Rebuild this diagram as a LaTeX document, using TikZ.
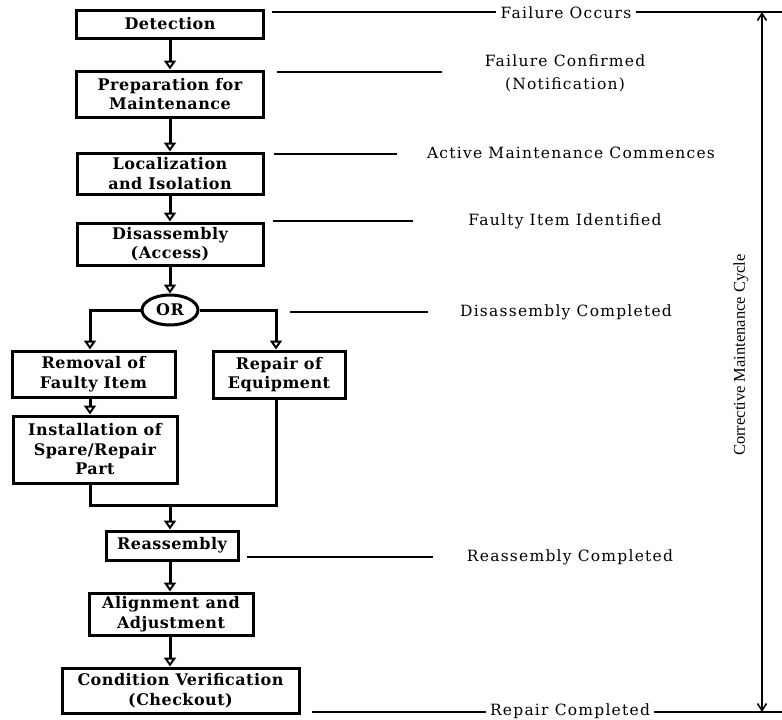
\documentclass[tikz,border=0pt]{standalone}
\usepackage{fontspec}
\setmainfont{DejaVu Serif}
\newfontfamily\stepfont[LetterSpace=3]{DejaVu Serif}
\newfontfamily\notefont[LetterSpace=8]{DejaVu Serif}
\newfontfamily\cyclefont{Liberation Serif}
\usetikzlibrary{arrows.meta,shapes.geometric}

\begin{document}
\begin{tikzpicture}[x=1pt,y=-1pt,
  stepbox/.style={draw, line width=3pt, rectangle, align=center, inner sep=2pt,
    font=\stepfont\bfseries\fontsize{16}{19.5}\selectfont},
  orbox/.style={draw, line width=3pt, ellipse, inner sep=0pt,
    minimum width=56pt, minimum height=30pt,
    font=\stepfont\bfseries\fontsize{16}{19.5}\selectfont},
  flow/.style={line width=3pt, -{Triangle[open,length=9pt,width=12pt,line width=2pt]}},
  link/.style={line width=3pt, line join=miter},
  lead/.style={line width=1.5pt},
  note/.style={font=\notefont\fontsize{15.5}{23}\selectfont, align=center, inner sep=4pt},
]
\fill[white] (0,0) rectangle (782,720);
\useasboundingbox (0,0) rectangle (782,720);

% process steps
\node[stepbox, minimum width=187pt, minimum height=28pt] (det)  at (170,24)    {Detection};
\node[stepbox, minimum width=187pt, minimum height=46pt] (prep) at (170,94)    {Preparation for\\Maintenance};
\node[stepbox, minimum width=186pt, minimum height=41pt] (loc)  at (170,173.5) {Localization\\and Isolation};
\node[stepbox, minimum width=186pt, minimum height=42pt] (dis)  at (170,244)   {Disassembly\\(Access)};
\node[orbox] (or) at (170,310) {OR};
\node[stepbox, minimum width=163pt, minimum height=46pt] (rem)  at (93.5,374)  {Removal of\\Faulty Item};
\node[stepbox, minimum width=132pt, minimum height=47pt] (rep)  at (279,374.5) {Repair of\\Equipment};
\node[stepbox, minimum width=164pt, minimum height=67pt] (inst) at (95,449.5)  {Installation of\\Spare/Repair\\Part};
\node[stepbox, minimum width=132pt, minimum height=29pt] (rea)  at (172,545.5) {Reassembly};
\node[stepbox, minimum width=164pt, minimum height=42pt] (ali)  at (171,614)   {Alignment and\\Adjustment};
\node[stepbox, minimum width=237pt, minimum height=45pt] (cond) at (180.5,690.5) {Condition Verification\\(Checkout)};

% branch columns and merge point
\coordinate (lx) at (90,0);
\coordinate (rx) at (276,0);
\coordinate (mrg) at (170,505);

% main flow
\draw[flow] (det.south) -- (det.south |- prep.north);
\draw[flow] (prep.south) -- (prep.south |- loc.north);
\draw[flow] (loc.south) -- (loc.south |- dis.north);
\draw[flow] (dis.south) -- (or.north);
\draw[flow] (or.west) -| (lx |- rem.north);
\draw[flow] (or.east) -| (rx |- rep.north);
\draw[flow] (lx |- rem.south) -- (lx |- inst.north);
\draw[link] (lx |- inst.south) -- (lx |- mrg) -- (rx |- mrg) -- (rx |- rep.south);
\draw[flow] (mrg) -- (mrg |- rea.north);
\draw[flow] (rea.south -| mrg) -- (mrg |- ali.north);
\draw[flow] (ali.south -| mrg) -- (mrg |- cond.north);

% event labels
\node[note] (n1) at (566,13)   {Failure Occurs};
\node[note] (n2) at (565,73.5) {Failure Confirmed\\(Notification)};
\node[note] (n3) at (571,153)  {Active Maintenance Commences};
\node[note] (n4) at (565,221)  {Faulty Item Identified};
\node[note] (n5) at (566,312)  {Disassembly Completed};
\node[note] (n6) at (570,557)  {Reassembly Completed};
\node[note] (n7) at (570,711)  {Repair Completed};

\coordinate (a1) at (272,12);  \coordinate (b1) at (782,12);
\coordinate (a2) at (277,72);  \coordinate (e2) at (442,72);
\coordinate (a3) at (274,154); \coordinate (e3) at (397,154);
\coordinate (a4) at (273,221); \coordinate (e4) at (413,221);
\coordinate (a5) at (290,312); \coordinate (e5) at (428,312);
\coordinate (a6) at (247,557); \coordinate (e6) at (433,557);
\coordinate (a7) at (312,712); \coordinate (b7) at (782,712);

\draw[lead] (a1) -- (n1.west |- a1);
\draw[lead] (n1.east |- b1) -- (b1);
\draw[lead] (a2) -- (e2);
\draw[lead] (a3) -- (e3);
\draw[lead] (a4) -- (e4);
\draw[lead] (a5) -- (e5);
\draw[lead] (a6) -- (e6);
\draw[lead] (a7) -- (n7.west |- a7);
\draw[lead] (n7.east |- b7) -- (b7);

% overall cycle span
\coordinate (ctop) at (762,12);
\coordinate (cbot) at (762,712);
\draw[line width=1.6pt, {Straight Barb[length=7pt,width=9pt]}-{Straight Barb[length=7pt,width=9pt]}] (ctop) -- (cbot);
\node[rotate=90, font=\cyclefont\fontsize{16.5}{18}\selectfont] (cyc) at (741,355) {Corrective Maintenance Cycle};

\end{tikzpicture}
\end{document}
